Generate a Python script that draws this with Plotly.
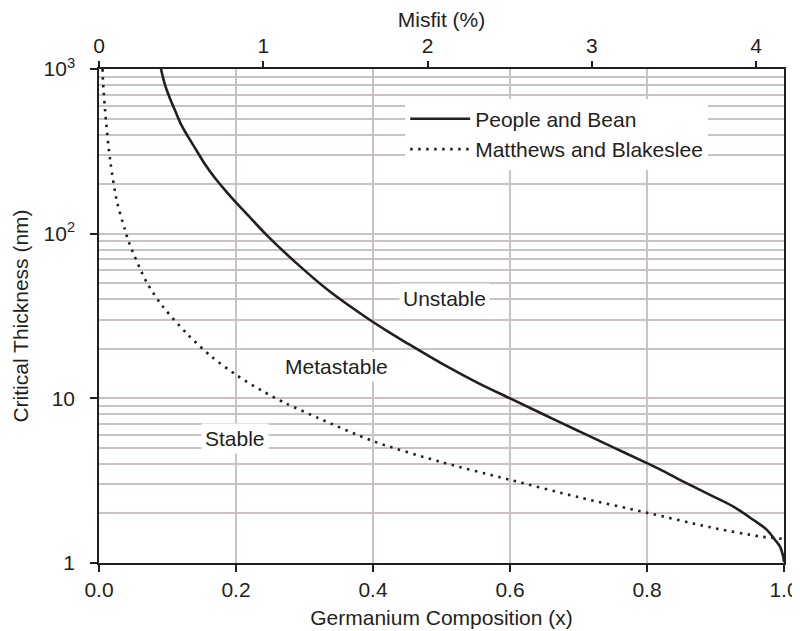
import math
import plotly.graph_objects as go

# Data
pb_x = [0.0905, 0.0964, 0.1036, 0.112, 0.1207, 0.1304, 0.1426, 0.1547, 0.1693, 0.184, 0.1985,
        0.213, 0.2448, 0.2886, 0.337, 0.3956, 0.425, 0.45, 0.50, 0.55, 0.60, 0.65, 0.70,
        0.75, 0.80, 0.819, 0.848, 0.892, 0.926, 0.955, 0.975, 0.987, 0.994, 0.999, 1.0]
pb_y = [1000, 800, 662, 548, 453, 386, 319, 264, 218, 184, 157,
        135.5, 98, 66, 44.5, 29.9, 25.0, 21.6, 16.3, 12.6, 10.0, 7.95, 6.33,
        5.05, 4.04, 3.70, 3.20, 2.59, 2.20, 1.83, 1.59, 1.38, 1.26, 1.09, 1.01]

mb_x = [0.0052, 0.0058, 0.0102, 0.0165, 0.0263, 0.0375, 0.0434, 0.0696, 0.0934, 0.130, 0.165,
        0.200, 0.2365, 0.2726, 0.320, 0.40, 0.50, 0.60, 0.70, 0.80, 0.892, 0.965, 1.0]
mb_y = [1000, 849, 483, 275, 156, 107, 89, 50.7, 36.0, 24.3, 17.8,
        13.9, 11.2, 9.33, 7.6, 5.5, 4.1, 3.2, 2.51, 2.02, 1.65, 1.45, 1.40]

x_ticks = [0.0, 0.2, 0.4, 0.6, 0.8, 1.0]
y_ticks = [1, 10, 100, 1000]
y_ticktext = ["1", "10", "10<sup>2</sup>", "10<sup>3</sup>"]
y_minor = [m * d for d in [1, 10, 100] for m in range(2, 10)]
misfit_ticks = [0, 1, 2, 3, 4]
misfit_max = 4.17

region_labels = ["Stable", "Metastable", "Unstable"]
region_x = [0.1985, 0.347, 0.505]
region_y = [5.73, 15.6, 40.6]

INK = "#231f20"
GRID = "#cbc3c3"
FONT = "Arial, Liberation Sans, sans-serif"
FS = 21

fig = go.Figure()
fig.add_trace(go.Scatter(x=pb_x, y=pb_y, mode="lines", name="People and Bean",
                         line=dict(color=INK, width=2.6, shape="spline", smoothing=1.0)))
fig.add_trace(go.Scatter(x=mb_x, y=mb_y, mode="lines", name="Matthews and Blakeslee",
                         line=dict(color=INK, width=2.6, dash="2.5px,5.5px",
                                   shape="spline", smoothing=0.8)))
# top axis carrier (invisible)
fig.add_trace(go.Scatter(x=[], y=[], xaxis="x2", showlegend=False, hoverinfo="skip"))

for t, xv, yv in zip(region_labels, region_x, region_y):
    fig.add_annotation(x=xv, y=math.log10(yv), yref="y", xref="x", text=t, showarrow=False,
                       font=dict(size=FS, color=INK, family=FONT), bgcolor="white",
                       borderpad=3)

# the page body adds an 8px offset; size the figure so the plot area lands where the reference has it
fig.update_layout(
    width=792, height=623,
    margin=dict(l=91, r=16, t=61, b=68),
    paper_bgcolor="white", plot_bgcolor="white",
    font=dict(family=FONT, size=FS, color=INK),
    showlegend=True,
    legend=dict(x=0.447, y=0.94, xanchor="left", yanchor="top", bgcolor="white",
                borderwidth=0, font=dict(size=FS, color=INK), itemwidth=60,
                tracegroupgap=0),
    xaxis=dict(range=[0, 1], tickvals=x_ticks, tickformat=".1f", ticks="outside",
               ticklen=7, tickwidth=1.5, tickcolor=INK, showline=True, linecolor=INK,
               linewidth=1.5, mirror=True, showgrid=True, gridcolor=GRID, gridwidth=1.8,
               zeroline=False, automargin=False,
               title=dict(text="Germanium Composition (x)", standoff=10,
                          font=dict(size=FS, color=INK))),
    xaxis2=dict(range=[0, misfit_max], overlaying="x", side="top", anchor="y",
                tickvals=misfit_ticks, ticks="outside", ticklen=7, tickwidth=1.5,
                tickcolor=INK, showgrid=False, zeroline=False, showline=False,
                automargin=False,
                title=dict(text="Misfit (%)", standoff=3, font=dict(size=FS, color=INK))),
    yaxis=dict(type="log", range=[0, 3], tickvals=y_ticks, ticktext=y_ticktext,
               ticks="outside", ticklen=7, tickwidth=1.5, tickcolor=INK,
               showline=True, linecolor=INK, linewidth=1.5, mirror=True,
               showgrid=True, gridcolor=GRID, gridwidth=1.5, zeroline=False,
               automargin=False, ticklabelstandoff=11,
               minor=dict(tickvals=y_minor, showgrid=True, gridcolor=GRID,
                          gridwidth=1.5, ticks=""),
               title=dict(text="Critical Thickness (nm)", standoff=9,
                          font=dict(size=FS, color=INK))),
)

fig.write_html("out.html")
